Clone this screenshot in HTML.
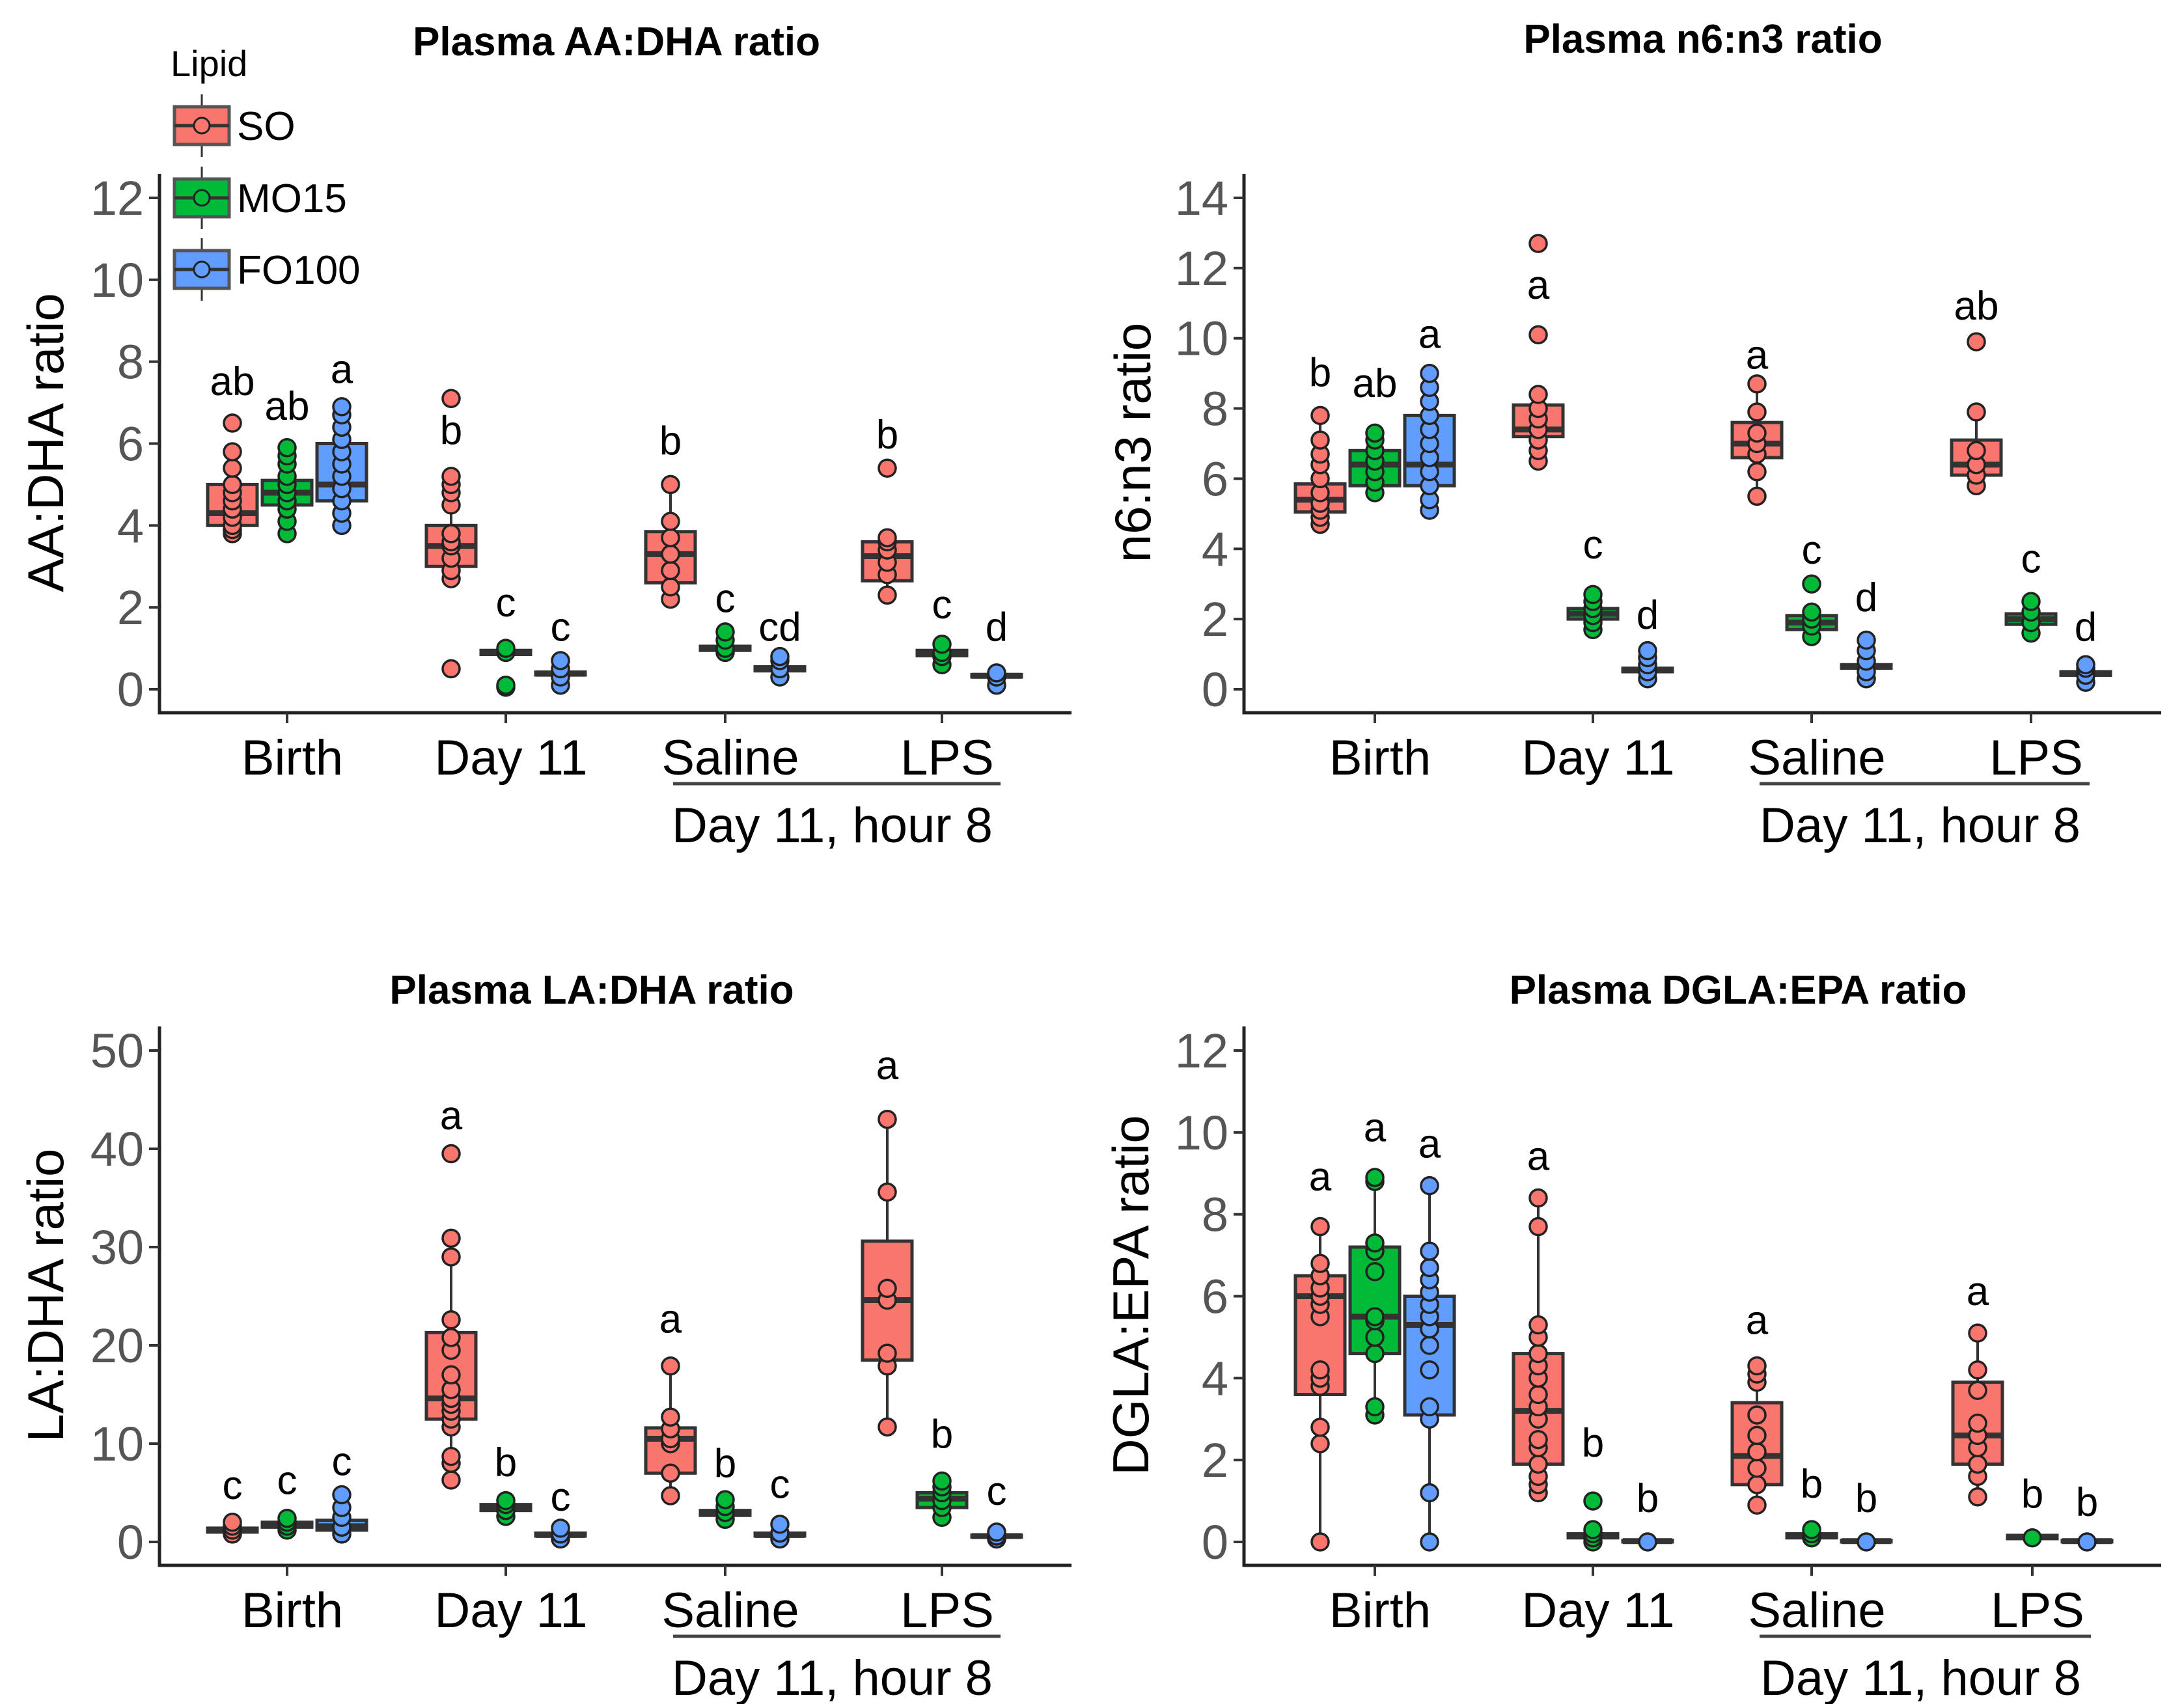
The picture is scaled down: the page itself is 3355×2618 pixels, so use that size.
<!DOCTYPE html>
<html><head><meta charset="utf-8"><style>
html,body{margin:0;padding:0;background:#fff}
svg{display:block}
text{font-family:"Liberation Sans Narrow","Liberation Sans",sans-serif}
</style></head><body>
<svg id="fig" width="3355" height="2618" viewBox="0 0 3355 2618" xmlns="http://www.w3.org/2000/svg"></svg>
<script>
// ---------- data ----------
const groups = ["Birth","Day 11","Saline","LPS"];
const lipids = ["SO","MO15","FO100"];
const colors = ["#F8766D","#00BA38","#619CFF"];

// Panel 1: AA:DHA (order: Birth SO,MO,FO, Day11 SO,MO,FO, Saline..., LPS...)
const p1Box = [[3.8,4.0,4.3,5.0,5.8],[3.8,4.5,4.8,5.1,5.9],[4.0,4.6,5.0,6.0,6.9],
 [2.7,3.0,3.5,4.0,5.2],[0.9,0.85,0.9,0.95,1.0],[0.3,0.35,0.38,0.42,0.5],
 [2.2,2.6,3.3,3.85,5.0],[0.9,0.95,1.0,1.05,1.2],[0.4,0.45,0.5,0.55,0.6],
 [2.3,2.65,3.25,3.6,3.7],[0.7,0.82,0.88,0.95,1.05],[0.2,0.3,0.33,0.36,0.4]];
const p1Pts = [[3.8,3.9,4.0,4.2,4.4,4.6,4.8,5.0,5.4,5.8,6.5],[3.8,4.1,4.4,4.6,4.8,5.0,5.2,5.5,5.7,5.9],[4.0,4.3,4.6,4.9,5.2,5.5,5.8,6.1,6.4,6.7,6.9],
 [0.5,2.7,2.9,3.2,3.5,3.6,3.8,4.5,4.8,5.0,5.2,7.1],[0.05,0.1,0.9,1.0],[0.1,0.3,0.5,0.7],
 [2.2,2.5,2.9,3.3,3.7,4.1,5.0],[0.9,1.0,1.2,1.4],[0.3,0.5,0.7,0.8],
 [2.3,2.8,3.1,3.4,3.6,3.7,5.4],[0.6,0.8,0.9,1.1],[0.1,0.3,0.4]];
const p1Letters = ["ab","ab","a","b","c","c","b","c","cd","b","c","d"];
const p1LetterY = [7.5,6.9,7.8,6.3,2.1,1.5,6.05,2.2,1.5,6.2,2.05,1.5];

// Panel 2: n6:n3
const p2Box = [[4.7,5.05,5.4,5.85,7.8],[5.6,5.8,6.4,6.8,7.3],[5.1,5.8,6.4,7.8,9.0],
 [6.5,7.2,7.4,8.1,8.4],[1.7,2.0,2.15,2.3,2.7],[0.3,0.5,0.55,0.6,1.1],
 [5.5,6.6,7.0,7.6,8.7],[1.5,1.7,1.9,2.1,2.4],[0.3,0.6,0.65,0.7,1.0],
 [5.8,6.1,6.4,7.1,7.9],[1.6,1.85,2.0,2.15,2.5],[0.2,0.4,0.45,0.5,0.7]];
const p2Pts = [[4.7,4.9,5.1,5.3,5.6,6.0,6.4,6.7,7.1,7.8],[5.6,5.9,6.2,6.5,6.8,7.1,7.3],[5.1,5.4,5.8,6.2,6.6,7.0,7.4,7.8,8.2,8.6,9.0],
 [6.5,6.8,7.1,7.4,7.7,8.0,8.4,10.1,12.7],[1.7,1.9,2.1,2.3,2.5,2.7],[0.3,0.5,0.7,0.9,1.1],
 [5.5,6.2,6.7,7.0,7.3,7.9,8.7],[1.5,1.8,2.0,2.2,3.0],[0.3,0.5,0.8,1.1,1.4],
 [5.8,6.1,6.4,6.8,7.9,9.9],[1.6,1.9,2.2,2.5],[0.2,0.4,0.6,0.7]];
const p2Letters = ["b","ab","a","a","c","d","a","c","d","ab","c","d"];
const p2LetterY = [9.0,8.7,10.1,11.5,4.1,2.1,9.5,3.95,2.6,10.9,3.7,1.75];

// Panel 3: LA:DHA
const p3Box = [[0.8,1.0,1.2,1.4,2.0],[1.2,1.5,1.7,2.0,2.4],[0.8,1.2,1.6,2.2,3.0],
 [6.3,12.5,14.6,21.3,31.0],[2.6,3.2,3.5,3.8,4.2],[0.3,0.6,0.7,0.9,1.4],
 [4.7,7.0,10.5,11.6,17.9],[2.3,2.7,3.0,3.2,4.3],[0.3,0.6,0.7,0.9,1.8],
 [11.7,18.5,24.6,30.6,43.0],[2.5,3.5,4.4,5.0,6.2],[0.3,0.5,0.6,0.7,1.0]];
const p3Pts = [[0.8,1.2,1.6,2.0],[1.2,1.6,2.0,2.4],[0.8,1.5,2.5,3.5,4.8],
 [6.3,8.0,8.7,11.7,12.5,13.3,14.0,14.6,15.5,17.0,19.5,20.8,22.6,29.0,30.9,39.5],[2.6,3.2,3.8,4.2],[0.3,0.8,1.4],
 [4.7,7.0,10.0,10.5,11.5,12.7,17.9],[2.3,3.0,3.6,4.3],[0.3,0.9,1.8],
 [11.7,17.9,19.2,24.6,25.8,35.6,43.0],[2.5,3.5,4.2,5.0,5.6,6.2],[0.3,0.6,1.0]];
const p3Letters = ["c","c","c","a","b","c","a","b","c","a","b","c"];
const p3LetterY = [5.7,6.2,8.1,43.3,8.0,4.5,22.6,7.9,5.8,48.4,10.9,5.1];

// Panel 4: DGLA:EPA
const p4Box = [[0,3.6,6.0,6.5,7.7],[3.1,4.6,5.5,7.2,8.9],[0,3.1,5.3,6.0,8.7],
 [1.2,1.9,3.2,4.6,8.4],[0,0.1,0.15,0.2,0.3],[0,0,0.02,0.04,0.05],
 [0.9,1.4,2.1,3.4,4.3],[0.05,0.1,0.15,0.2,0.3],[0,0,0.02,0.04,0.05],
 [1.1,1.9,2.6,3.9,5.1],[0.05,0.08,0.12,0.16,0.2],[0,0,0.02,0.04,0.05]];
const p4Pts = [[0,2.4,2.8,3.8,4.0,4.2,5.5,5.8,6.0,6.2,6.5,6.8,7.7],[3.1,3.3,4.6,5.0,5.4,5.5,6.6,7.1,7.3,8.8,8.9],[0,1.2,3.0,3.3,4.2,4.8,5.2,5.5,5.8,6.1,6.4,6.7,7.1,8.7],
 [1.2,1.4,1.6,1.9,2.3,2.5,3.0,3.3,3.6,4.0,4.3,4.6,5.0,5.3,7.7,8.4],[0,0.1,0.2,0.3,1.0],[0],
 [0.9,1.4,1.8,2.2,2.6,3.1,3.9,4.1,4.3],[0.1,0.2,0.3],[0],
 [1.1,1.6,1.9,2.3,2.6,2.9,3.7,4.2,5.1],[0.1],[0]];
const p4Letters = ["a","a","a","a","b","b","a","b","b","a","b","b"];
const p4LetterY = [8.9,10.1,9.7,9.4,2.4,1.05,5.4,1.4,1.05,6.1,1.15,0.95];

const p1Ticks = [0,2,4,6,8,10,12];
const p2Ticks = [0,2,4,6,8,10,12,14];
const p3Ticks = [0,10,20,30,40,50];
const p4Ticks = [0,2,4,6,8,10,12];

// ---------- drawing ----------
const NS = "http://www.w3.org/2000/svg";
const svg = document.getElementById("fig");
function mk(tag, attrs, parent){
  const e = document.createElementNS(NS, tag);
  for (const k in attrs) e.setAttribute(k, attrs[k]);
  (parent||svg).appendChild(e);
  return e;
}

const panels = [
 {ox:0, oy:0, ax:245, end:1646, cats:[441,777,1114,1447], title:"Plasma AA:DHA ratio", tx:947, ty:63, ylab:"AA:DHA ratio", ylx:70, ymax:12, ticks:p1Ticks, box:p1Box, pts:p1Pts, let:p1Letters, letY:p1LetterY, name:"aa-dha"},
 {ox:1680, oy:0, ax:231, end:1640, cats:[432,767,1103,1440], title:"Plasma n6:n3 ratio", tx:936, ty:59, ylab:"n6:n3 ratio", ylx:60, ymax:14, ticks:p2Ticks, box:p2Box, pts:p2Pts, let:p2Letters, letY:p2LetterY, name:"n6-n3"},
 {ox:0, oy:1310, ax:245, end:1646, cats:[441,777,1114,1447], title:"Plasma LA:DHA ratio", tx:909, ty:210, ylab:"LA:DHA ratio", ylx:70, ymax:50, ticks:p3Ticks, box:p3Box, pts:p3Pts, let:p3Letters, letY:p3LetterY, name:"la-dha"},
 {ox:1680, oy:1310, ax:231, end:1640, cats:[432,767,1103,1442], title:"Plasma DGLA:EPA ratio", tx:990, ty:210, ylab:"DGLA:EPA ratio", ylx:57, ymax:12, ticks:p4Ticks, box:p4Box, pts:p4Pts, let:p4Letters, letY:p4LetterY, name:"dgla-epa"}
];

const Y0 = 1059, YT = 304, XAXIS = 1095, AXTOP = 267, DODGE = 84, HW = 38, R = 13;

panels.forEach((p, pi) => {
  const g = mk("g", {transform:`translate(${p.ox},${p.oy})`});
  
  
  const y = v => Y0 - (v / p.ymax) * (Y0 - YT);

  const t = mk("text", {x:p.tx, y:p.ty + 22, "text-anchor":"middle", "font-size":62, "font-weight":"bold", fill:"#000"}, g);
  t.textContent = p.title;
  
  

  const yl = mk("text", {x:0, y:0, transform:`translate(${p.ylx + 27},680) rotate(-90)`, "text-anchor":"middle", "font-size":78, fill:"#000"}, g);
  yl.textContent = p.ylab;
  
  

  const axes = mk("path", {d:`M${p.ax},${AXTOP} V${XAXIS} H${p.end}`, fill:"none", stroke:"#222", "stroke-width":5}, g);
  
  

  p.ticks.forEach(v => {
    const tk = mk("line", {x1:p.ax-16, x2:p.ax, y1:y(v), y2:y(v), stroke:"#333", "stroke-width":4}, g);
    
    
    const tl = mk("text", {x:p.ax-24, y:y(v)+26, "text-anchor":"end", "font-size":74, fill:"#555"}, g);
    tl.textContent = v;
    
    
  });

  groups.forEach((gn, ci) => {
    const cx = p.cats[ci];
    const tk = mk("line", {x1:cx, x2:cx, y1:XAXIS, y2:XAXIS+16, stroke:"#333", "stroke-width":4}, g);
    
    
    const cl = mk("text", {x:cx + 8, y:1190, "text-anchor":"middle", "font-size":76, fill:"#000"}, g);
    cl.textContent = gn;
    
    

    lipids.forEach((ln, li) => {
      const k = ci*3 + li;
      const x = cx + (li-1)*DODGE;
      const [lo,q1,md,q3,hi] = p.box[k];
      const bg = mk("g", {}, g);
      
      
      mk("line", {x1:x, x2:x, y1:y(hi), y2:y(lo), stroke:"#333", "stroke-width":4}, bg);
      mk("rect", {x:x-HW, y:y(q3), width:2*HW, height:Math.max(y(q1)-y(q3),2), fill:colors[li], stroke:"#333", "stroke-width":5}, bg);
      mk("line", {x1:x-HW, x2:x+HW, y1:y(md), y2:y(md), stroke:"#333", "stroke-width":9}, bg);
      p.pts[k].forEach(v => {
        const c = mk("circle", {cx:x, cy:y(v), r:R, fill:colors[li], stroke:"#222", "stroke-width":3.5}, bg);
        
        
      });
      const lt = mk("text", {x:x, y:y(p.letY[k])+20, "text-anchor":"middle", "font-size":62, fill:"#000"}, g);
      lt.textContent = p.let[k];
      
      
    });
  });

  const ul = mk("line", {x1:p.cats[2]-80, x2:p.cats[3]+90, y1:1204, y2:1204, stroke:"#444", "stroke-width":5}, g);
  
  
  const gl = mk("text", {x:(p.cats[2]+p.cats[3])/2 - 2, y:1294, "text-anchor":"middle", "font-size":76, fill:"#000"}, g);
  gl.textContent = "Day 11, hour 8";
  
  

  if (pi === 0) {
    const lg = mk("g", {}, g);
    
    
    const lt = mk("text", {x:262, y:117, "font-size":56, fill:"#000"}, lg);
    lt.textContent = "Lipid";
    
    
    const ky = [193, 304, 414];
    lipids.forEach((ln, li) => {
      const e = mk("g", {}, lg);
      
      
      mk("line", {x1:310, x2:310, y1:ky[li]-48, y2:ky[li]+48, stroke:"#333", "stroke-width":3}, e);
      mk("rect", {x:268, y:ky[li]-29, width:84, height:58, fill:colors[li], stroke:"#555", "stroke-width":5}, e);
      mk("line", {x1:268, x2:352, y1:ky[li], y2:ky[li], stroke:"#333", "stroke-width":5}, e);
      mk("circle", {cx:310, cy:ky[li], r:12, fill:colors[li], stroke:"#222", "stroke-width":3}, e);
      const tx = mk("text", {x:364, y:ky[li]+22, "font-size":62, fill:"#000"}, e);
      tx.textContent = ln;
    });
  }
});
</script>
</body></html>
